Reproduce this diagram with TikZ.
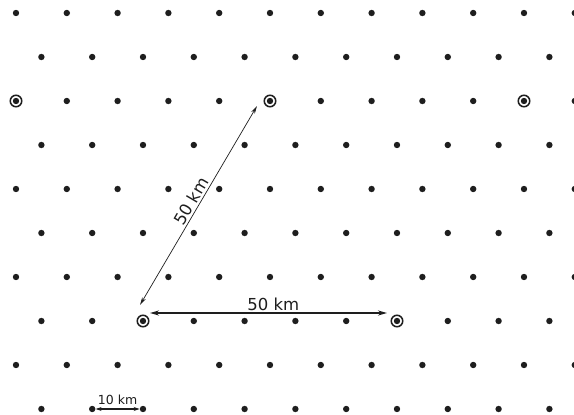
\documentclass[tikz,border=0pt]{standalone}
\usepackage{fontspec}
\setmainfont{DejaVu Sans}
\usetikzlibrary{arrows.meta}
\definecolor{ink}{HTML}{1E1E1E}
\tikzset{
  dot/.style={circle,fill=ink,inner sep=0pt,minimum size=6.4pt},
  ring/.style={circle,draw=ink,line width=1.5pt,inner sep=0pt,minimum size=11.5pt},
  thinarrow/.style={draw=ink,line width=0.7pt,{Stealth[length=8pt,width=4pt]}-{Stealth[length=8pt,width=4pt]}},
  thickarrow/.style={draw=ink,line width=1.6pt,{Stealth[length=9pt,width=5pt]}-{Stealth[length=9pt,width=5pt]}},
  scalearrow/.style={draw=ink,line width=1.4pt,{Stealth[length=6pt,width=4pt]}-{Stealth[length=6pt,width=4pt]}},
  biglabel/.style={text=ink,font=\fontsize{16.5}{16.5}\selectfont,inner sep=1.5pt},
  smalllabel/.style={text=ink,font=\fontsize{12.5}{12.5}\selectfont,inner sep=1pt}
}
\begin{document}
\begin{tikzpicture}[x=1pt,y=-1pt]
\fill[white] (0,0) rectangle (574,415);
\useasboundingbox (0,0) rectangle (574,415);
% even rows
\foreach \r in {0,2,4,6,8}{
  \foreach \k in {0,...,11}{
    \pgfmathsetmacro{\xx}{16+50.8*\k}
    \pgfmathsetmacro{\yy}{13+44*\r}
    \node[dot] (p\r-\k) at (\xx,\yy) {};
  }
}
% odd rows
\foreach \r in {1,3,5,7,9}{
  \foreach \k in {0,...,10}{
    \pgfmathsetmacro{\xx}{41.4+50.8*\k}
    \pgfmathsetmacro{\yy}{13+44*\r}
    \node[dot] (p\r-\k) at (\xx,\yy) {};
  }
}
% circled stations
\node[ring] (ra) at (p2-0.center) {};
\node[ring] (rb) at (p2-5.center) {};
\node[ring] (rc) at (p2-10.center) {};
\node[ring] (rd) at (p7-2.center) {};
\node[ring] (re) at (p7-7.center) {};
% 50 km diagonal
\draw[thinarrow] ([xshift=-3pt,yshift=16pt]rd.center) -- ([xshift=-13pt,yshift=-5pt]rb.center)
  node[biglabel,midway,sloped,above] {50 km};
% 50 km horizontal
\draw[thickarrow] ([xshift=7pt,yshift=8pt]rd.center) -- ([xshift=-10pt,yshift=8pt]re.center)
  node[biglabel,pos=0.52,above] {50 km};
% 10 km scale
\draw[scalearrow] (p9-1) -- (p9-2)
  node[smalllabel,midway,above,yshift=3pt] {10 km};
\end{tikzpicture}
\end{document}
